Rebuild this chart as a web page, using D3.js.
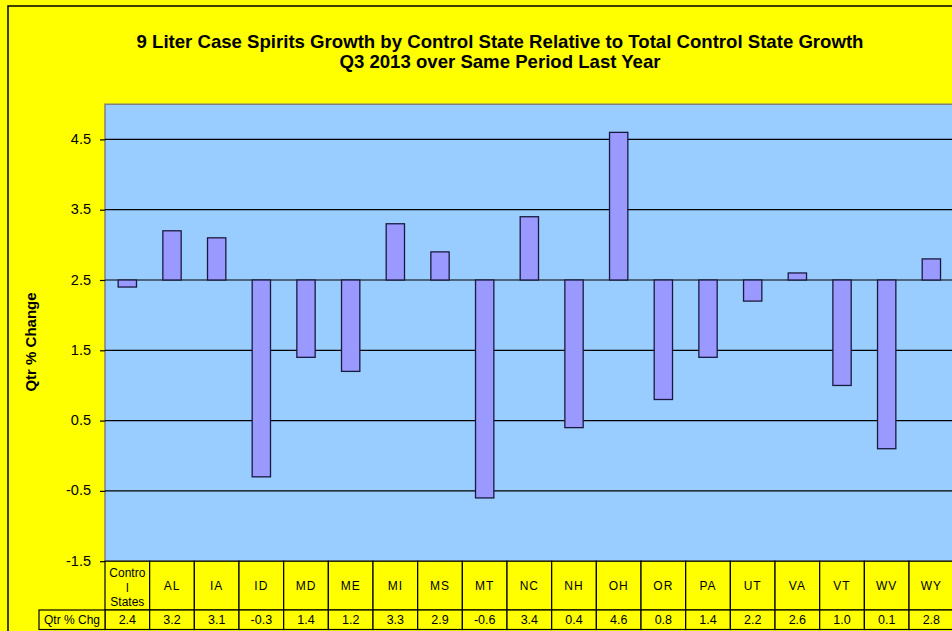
<!DOCTYPE html>
<html>
<head>
<meta charset="utf-8">
<script src="https://cdn.jsdelivr.net/npm/d3@7"></script>
<style>
  html, body { margin: 0; padding: 0; background: #FFFF00; overflow: hidden; }
  svg { display: block; font-family: Arial, "Liberation Sans", sans-serif; }
</style>
</head>
<body>
<svg id="chart" width="952" height="631"></svg>
<script>
const categories = ["Control States", "AL", "IA", "ID", "MD", "ME", "MI", "MS", "MT", "NC", "NH", "OH", "OR", "PA", "UT", "VA", "VT", "WV", "WY"];
const categoryLines = [["Contro", "l", "States"]];
const values = [2.4, 3.2, 3.1, -0.3, 1.4, 1.2, 3.3, 2.9, -0.6, 3.4, 0.4, 4.6, 0.8, 1.4, 2.2, 2.6, 1.0, 0.1, 2.8];
const yTicks = [-1.5, -0.5, 0.5, 1.5, 2.5, 3.5, 4.5];
const baseline = 2.5;
const seriesName = "Qtr % Chg";
const titleLines = ["9 Liter Case Spirits Growth by Control State Relative to Total Control State Growth", "Q3 2013 over Same Period Last Year"];
const yTitle = "Qtr % Change";

const fmt = v => d3.format(".1f")(v).replace("\u2212", "-");

const svg = d3.select("#chart");

const plot = { left: 105, top: 104.25, right: 953.7, bottom: 561.2 };
const tableRow1Bottom = 610;
const tableBottom = 629.5;

// outer frame
svg.append("rect")
  .attr("x", 8).attr("y", 6).attr("width", 1000).attr("height", 640)
  .attr("fill", "#FFFF00").attr("stroke", "#000").attr("stroke-width", 1.5);

const x = d3.scaleBand().domain(categories).range([plot.left, plot.right]).padding(0);
const y = d3.scaleLinear().domain([-1.5, 5.0]).range([plot.bottom, plot.top]);

// plot area
svg.append("rect")
  .attr("x", plot.left).attr("y", plot.top)
  .attr("width", plot.right - plot.left).attr("height", plot.bottom - plot.top)
  .attr("fill", "#99CCFF").attr("stroke", "#808080").attr("stroke-width", 1.5);

// gridlines
svg.append("g").selectAll("line").data(yTicks.slice(1)).join("line")
  .attr("x1", plot.left).attr("x2", plot.right)
  .attr("y1", d => y(d)).attr("y2", d => y(d))
  .attr("stroke", "#000").attr("stroke-width", 1.2);

// y axis
const yAxis = svg.append("g")
  .attr("transform", `translate(${plot.left},0)`)
  .call(d3.axisLeft(y).tickValues(yTicks).tickSize(5).tickPadding(9).tickFormat(fmt));
yAxis.select(".domain").remove();
yAxis.selectAll(".tick line").attr("stroke", "#000").attr("stroke-width", 1.2);
yAxis.selectAll(".tick text")
  .attr("font-size", 14.5).attr("font-family", "Arial, 'Liberation Sans', sans-serif")
  .attr("fill", "#000").attr("dy", "0.28em");

// bars
const barW = x.bandwidth() * 0.41;
svg.append("g").selectAll("rect").data(values).join("rect")
  .attr("x", (d, i) => x(categories[i]) + (x.bandwidth() - barW) / 2)
  .attr("y", d => y(Math.max(d, baseline)))
  .attr("width", barW)
  .attr("height", d => Math.abs(y(d) - y(baseline)))
  .attr("fill", "#9999FF").attr("stroke", "#1a1a40").attr("stroke-width", 1.3);

// title
svg.append("g").selectAll("text").data(titleLines).join("text")
  .attr("x", 500).attr("y", (d, i) => 48 + i * 20)
  .attr("text-anchor", "middle")
  .attr("font-size", 18.6).attr("font-weight", "bold").attr("fill", "#000")
  .text(d => d);

// y title
svg.append("text")
  .attr("transform", `translate(36,342) rotate(-90)`)
  .attr("text-anchor", "middle")
  .attr("font-size", 15).attr("font-weight", "bold").attr("fill", "#000")
  .text(yTitle);

// data table
const table = svg.append("g");
const tableStroke = "#000";
table.selectAll("rect.cat").data(categories).join("rect")
  .attr("class", "cat")
  .attr("x", d => x(d)).attr("y", plot.bottom)
  .attr("width", x.bandwidth()).attr("height", tableRow1Bottom - plot.bottom)
  .attr("fill", "#FFFF00").attr("stroke", tableStroke).attr("stroke-width", 1.2);
table.selectAll("rect.val").data(categories).join("rect")
  .attr("class", "val")
  .attr("x", d => x(d)).attr("y", tableRow1Bottom)
  .attr("width", x.bandwidth()).attr("height", tableBottom - tableRow1Bottom)
  .attr("fill", "#FFFF00").attr("stroke", tableStroke).attr("stroke-width", 1.2);
table.append("rect")
  .attr("x", 39).attr("y", tableRow1Bottom)
  .attr("width", plot.left - 39).attr("height", tableBottom - tableRow1Bottom)
  .attr("fill", "#FFFF00").attr("stroke", tableStroke).attr("stroke-width", 1.2);
table.append("text")
  .attr("x", (39 + plot.left) / 2).attr("y", (tableRow1Bottom + tableBottom) / 2)
  .attr("dy", "0.35em").attr("text-anchor", "middle")
  .attr("font-size", 12).attr("fill", "#000")
  .text(seriesName);

categories.forEach((c, i) => {
  const cx = x(c) + x.bandwidth() / 2;
  if (i === 0) {
    table.append("g").selectAll("text").data(categoryLines[0]).join("text")
      .attr("x", cx).attr("y", (d, j) => 577 + j * 14.5)
      .attr("text-anchor", "middle").attr("font-size", 12).attr("fill", "#000")
      .text(d => d);
  } else {
    table.append("text")
      .attr("x", cx).attr("y", (plot.bottom + tableRow1Bottom) / 2)
      .attr("dy", "0.35em").attr("text-anchor", "middle")
      .attr("font-size", 12).attr("letter-spacing", "1px").attr("fill", "#000")
      .text(c);
  }
});

table.selectAll("text.vlab").data(values).join("text")
  .attr("class", "vlab")
  .attr("x", (d, i) => x(categories[i]) + x.bandwidth() / 2)
  .attr("y", (tableRow1Bottom + tableBottom) / 2)
  .attr("dy", "0.35em").attr("text-anchor", "middle")
  .attr("font-size", 12.5).attr("fill", "#000")
  .text(d => fmt(d));
</script>
</body>
</html>
